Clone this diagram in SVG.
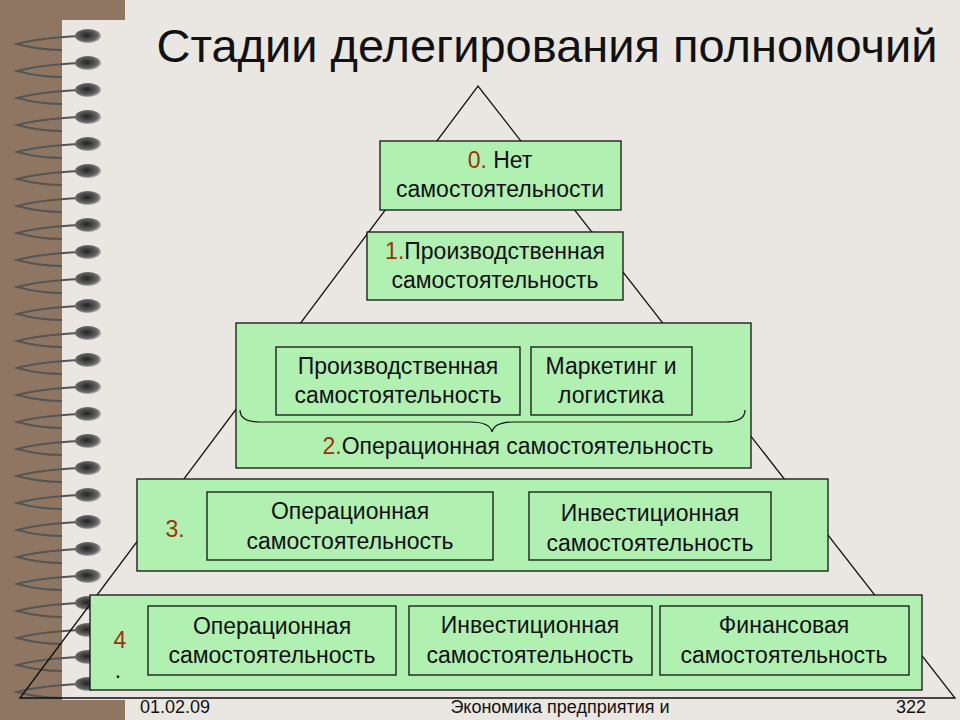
<svg xmlns="http://www.w3.org/2000/svg" width="960" height="720" viewBox="0 0 960 720">
<defs>
<style>
.t{font-family:"Liberation Sans",Arial,sans-serif;font-size:23px;fill:#111;text-anchor:middle}
.n{fill:#a0300a}
.b{fill:#b0f0b0;stroke:#111;stroke-width:1.3}
.w{fill:none;stroke:#555;stroke-width:2}
.f{font-family:"Liberation Sans",Arial,sans-serif;font-size:18px;fill:#111}
</style>
<radialGradient id="bead" cx="0.45" cy="0.45" r="0.6"><stop offset="0" stop-color="#222"/><stop offset="0.7" stop-color="#666"/><stop offset="1" stop-color="#ccc"/></radialGradient>
<g id="ring"><path class="w" d="M80,36 Q40,38 17,44 Q40,50 62,50"/><ellipse cx="88" cy="36" rx="13" ry="7" fill="url(#bead)"/></g>
</defs>
<rect width="960" height="720" fill="#eae7e2"/>
<rect x="0" y="0" width="62" height="720" fill="#8f7662"/>
<rect x="0" y="0" width="125" height="20" fill="#8f7662"/>
<rect x="0" y="700" width="125" height="20" fill="#8f7662"/>
<g id="binding">
<use href="#ring" y="0"/><use href="#ring" y="27"/><use href="#ring" y="54"/><use href="#ring" y="81"/><use href="#ring" y="108"/><use href="#ring" y="135"/><use href="#ring" y="162"/><use href="#ring" y="189"/><use href="#ring" y="216"/><use href="#ring" y="243"/><use href="#ring" y="270"/><use href="#ring" y="297"/><use href="#ring" y="324"/><use href="#ring" y="351"/><use href="#ring" y="378"/><use href="#ring" y="405"/><use href="#ring" y="432"/><use href="#ring" y="459"/><use href="#ring" y="486"/><use href="#ring" y="513"/><use href="#ring" y="540"/><use href="#ring" y="567"/><use href="#ring" y="594"/><use href="#ring" y="621"/><use href="#ring" y="648"/>
</g>
<text x="547" y="62" style="font-family:'Liberation Sans',Arial,sans-serif;font-size:47px;fill:#111;text-anchor:middle">Стадии делегирования полномочий</text>
<g id="connectors"><path d="M20,698 L478,86 L955,698 Z" fill="none" stroke="#111" stroke-width="1.3"/></g>
<g id="n0"><rect class="b" x="380" y="141" width="241" height="69"/><text class="t" x="500" y="168"><tspan class="n">0.</tspan> Нет</text><text class="t" x="500" y="197">самостоятельности</text></g>
<g id="n1"><rect class="b" x="367" y="232" width="256" height="68"/><text class="t" x="495" y="259"><tspan class="n">1.</tspan>Производственная</text><text class="t" x="495" y="288">самостоятельность</text></g>
<g id="n2"><rect class="b" x="236" y="323" width="515" height="145"/>
<rect class="b" x="276" y="347" width="244" height="68"/><text class="t" x="398" y="374">Производственная</text><text class="t" x="398" y="403">самостоятельность</text>
<rect class="b" x="531" y="347" width="161" height="68"/><text class="t" x="611" y="374">Маркетинг и</text><text class="t" x="611" y="403">логистика</text>
<path d="M240,410 Q240,422 260,422 L470,422 Q490,422 492,432 Q494,422 514,422 L725,422 Q745,422 745,410" fill="none" stroke="#111" stroke-width="1.2"/>
<text class="t" x="518" y="454"><tspan class="n">2.</tspan>Операционная самостоятельность</text></g>
<g id="n3"><rect class="b" x="137" y="479" width="691" height="92"/><text class="t n" x="175" y="537">3.</text>
<rect class="b" x="207" y="492" width="286" height="68"/><text class="t" x="350" y="519">Операционная</text><text class="t" x="350" y="549">самостоятельность</text>
<rect class="b" x="529" y="492" width="242" height="68"/><text class="t" x="650" y="521">Инвестиционная</text><text class="t" x="650" y="551">самостоятельность</text></g>
<g id="n4"><rect class="b" x="90" y="595" width="832" height="95"/><text class="t n" x="120" y="648">4</text><text class="t" x="118" y="678">.</text>
<rect class="b" x="148" y="606" width="248" height="69"/><text class="t" x="272" y="634">Операционная</text><text class="t" x="272" y="663">самостоятельность</text>
<rect class="b" x="409" y="606" width="243" height="69"/><text class="t" x="530" y="633">Инвестиционная</text><text class="t" x="530" y="663">самостоятельность</text>
<rect class="b" x="660" y="606" width="249" height="69"/><text class="t" x="784" y="633">Финансовая</text><text class="t" x="784" y="663">самостоятельность</text></g>
<text class="f" x="140" y="713">01.02.09</text>
<text class="f" x="560" y="713" text-anchor="middle">Экономика предприятия и</text>
<text class="f" x="926" y="713" text-anchor="end">322</text>
</svg>
